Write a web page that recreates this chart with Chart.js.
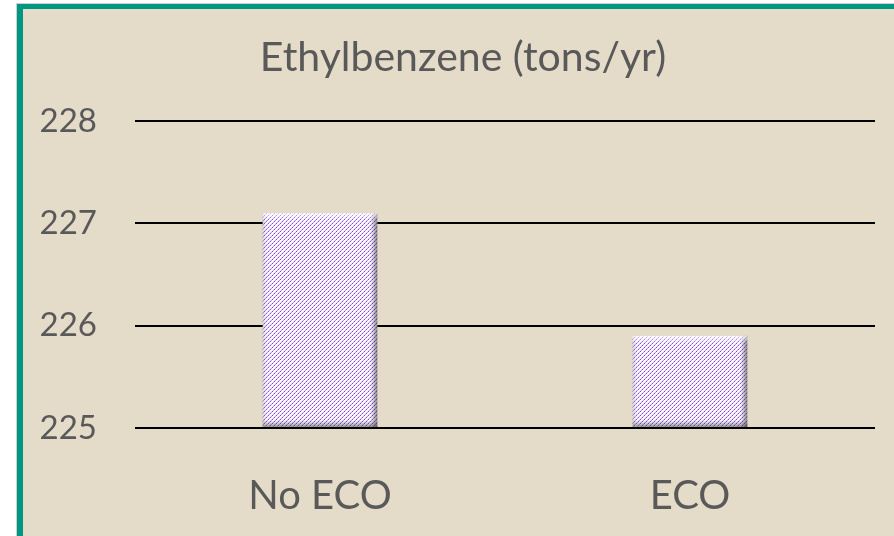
<!DOCTYPE html>
<html>
<head>
<meta charset="utf-8">
<style>
  html, body { margin: 0; padding: 0; background: #ffffff; }
  #wrap { position: absolute; left: 0; top: 0; width: 894px; height: 536px; }
</style>
<script src="https://cdn.jsdelivr.net/npm/chart.js@4.4.1/dist/chart.umd.min.js"></script>
</head>
<body>
<div id="wrap"><canvas id="c" width="894" height="536"></canvas></div>
<script>
const categories = ["No ECO", "ECO"];
const values = [227.1, 225.9];
const yTicks = [225, 226, 227, 228];
const titleText = "Ethylbenzene (tons/yr)";

function makePattern() {
  const s = 8;
  const pc = document.createElement('canvas');
  pc.width = s; pc.height = s;
  const c = pc.getContext('2d');
  const img = c.createImageData(s, s);
  for (let y = 0; y < s; y++) {
    for (let x = 0; x < s; x++) {
      const i = (y * s + x) * 4;
      let r = 255, g = 254, b = 255;
      const k = (x + y) % 4;
      if (k === 3) {
        if (x % 2 === 0) { r = 136; g = 72; b = 210; }
        else { r = 186; g = 146; b = 234; }
      } else if (k === 2) {
        r = 238; g = 226; b = 250;
      }
      img.data[i] = r; img.data[i+1] = g; img.data[i+2] = b; img.data[i+3] = 255;
    }
  }
  c.putImageData(img, 0, 0);
  return c.createPattern(pc, 'repeat');
}

const framePlugin = {
  id: 'frame',
  beforeDraw(chart) {
    const ctx = chart.ctx;
    ctx.save();
    ctx.fillStyle = '#ffffff';
    ctx.fillRect(0, 0, chart.width, chart.height);
    ctx.fillStyle = '#d0d0d0';
    ctx.fillRect(16, 3, chart.width - 16, chart.height - 3);
    ctx.fillStyle = '#009782';
    ctx.fillRect(17, 4, chart.width - 17, chart.height - 4);
    ctx.fillStyle = '#E4DBC9';
    ctx.fillRect(23, 9, chart.width - 23, chart.height - 9);
    ctx.restore();
  }
};

const titlePlugin = {
  id: 'centerTitle',
  afterDraw(chart, args, opts) {
    const ctx = chart.ctx;
    ctx.save();
    ctx.fillStyle = opts.color;
    ctx.font = opts.size + 'px ' + opts.family;
    ctx.textAlign = 'center';
    ctx.textBaseline = 'alphabetic';
    ctx.fillText(opts.text, opts.x, opts.y);
    ctx.restore();
  }
};

const bevelPlugin = {
  id: 'bevel',
  afterDatasetsDraw(chart) {
    const ctx = chart.ctx;
    const meta = chart.getDatasetMeta(0);
    ctx.save();
    meta.data.forEach(bar => {
      const p = bar.getProps(['x', 'y', 'base', 'width'], true);
      const l = p.x - p.width / 2, r = p.x + p.width / 2, t = p.y, b = p.base;
      const e = 7;
      let g = ctx.createLinearGradient(r - e, 0, r, 0);
      g.addColorStop(0, 'rgba(60,60,60,0)');
      g.addColorStop(1, 'rgba(60,60,60,0.6)');
      ctx.fillStyle = g; ctx.fillRect(r - e, t, e, b - t);
      g = ctx.createLinearGradient(0, b - e, 0, b);
      g.addColorStop(0, 'rgba(60,60,60,0)');
      g.addColorStop(1, 'rgba(60,60,60,0.5)');
      ctx.fillStyle = g; ctx.fillRect(l, b - e, r - l, e);
      g = ctx.createLinearGradient(l, 0, l + e, 0);
      g.addColorStop(0, 'rgba(120,120,120,0.3)');
      g.addColorStop(1, 'rgba(255,255,255,0)');
      ctx.fillStyle = g; ctx.fillRect(l, t, e, b - t);
      g = ctx.createLinearGradient(0, t, 0, t + e);
      g.addColorStop(0, 'rgba(255,255,255,0.7)');
      g.addColorStop(1, 'rgba(255,255,255,0)');
      ctx.fillStyle = g; ctx.fillRect(l, t, r - l, e);
    });
    ctx.restore();
  }
};

new Chart(document.getElementById('c'), {
  type: 'bar',
  data: {
    labels: categories,
    datasets: [{
      data: values,
      backgroundColor: makePattern(),
      borderWidth: 0,
      barPercentage: 1,
      categoryPercentage: 0.31,
      base: 225
    }]
  },
  options: {
    responsive: false,
    animation: false,
    devicePixelRatio: 1,
    layout: { padding: { left: 0, right: 19, top: 121, bottom: 0 } },
    plugins: {
      legend: { display: false },
      tooltip: { enabled: false },
      title: { display: false },
      centerTitle: {
        text: titleText,
        color: '#595959',
        family: 'Lato',
        size: 41,
        x: 463,
        y: 71
      }
    },
    scales: {
      y: {
        min: 225,
        max: 228,
        afterFit(scale) { scale.width = 135; },
        afterBuildTicks(scale) { scale.ticks = yTicks.map(v => ({ value: v })); },
        border: { display: false },
        grid: { color: '#000000', lineWidth: 2, drawTicks: false },
        ticks: {
          color: '#595959',
          padding: 38,
          font: { family: 'Lato', size: 33 }
        }
      },
      x: {
        afterFit(scale) { scale.height = 108; },
        border: { display: false },
        grid: { display: false, drawTicks: false },
        ticks: {
          color: '#595959',
          padding: 44,
          font: { family: 'Lato', size: 40 }
        }
      }
    }
  },
  plugins: [framePlugin, bevelPlugin, titlePlugin]
});
</script>
</body>
</html>
